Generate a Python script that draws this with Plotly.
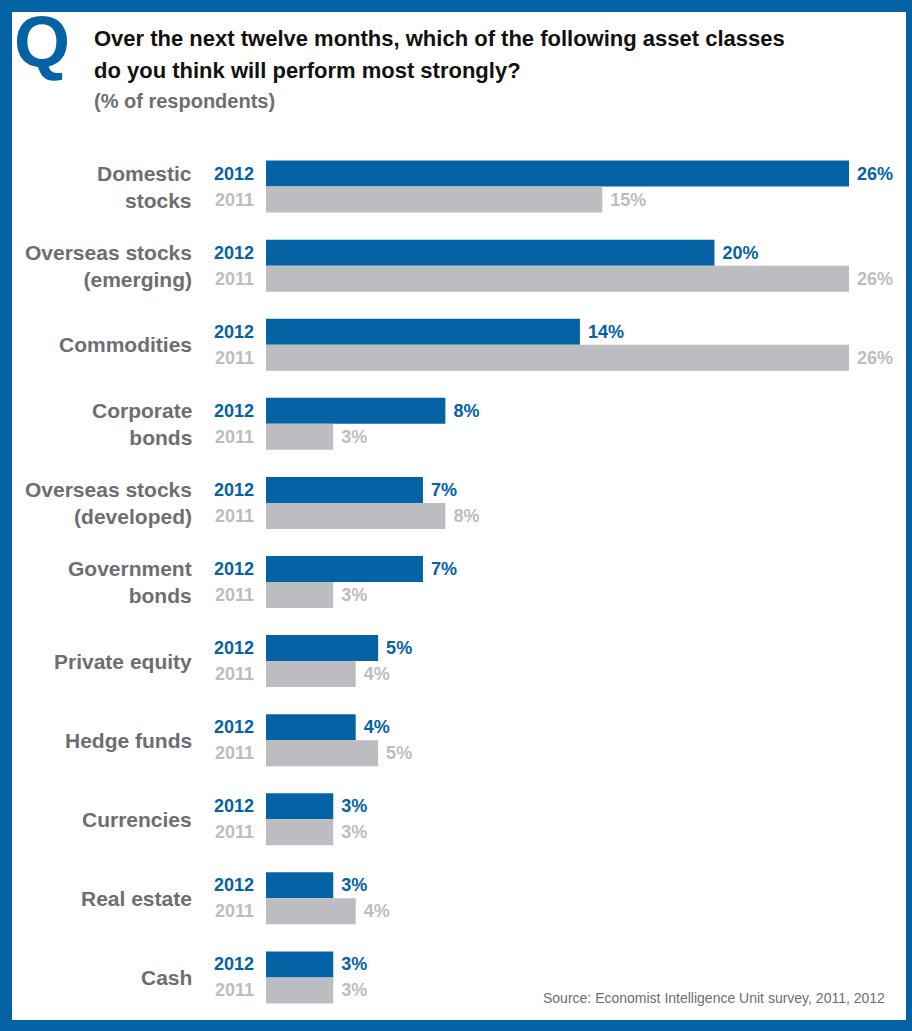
import plotly.graph_objects as go

categories = ["Domestic<br>stocks", "Overseas stocks<br>(emerging)", "Commodities",
              "Corporate<br>bonds", "Overseas stocks<br>(developed)", "Government<br>bonds",
              "Private equity", "Hedge funds", "Currencies", "Real estate", "Cash"]
values_2012 = [26, 20, 14, 8, 7, 7, 5, 4, 3, 3, 3]
values_2011 = [15, 26, 26, 3, 8, 3, 4, 5, 3, 4, 3]
series_names = ["2012", "2011"]

BLUE = "#0562a5"
GREY_BAR = "#bcbdc0"
GREY_TXT = "#6d6e71"
FONT = "Liberation Sans"

W, H = 912, 1031
ML, MR, MT, MB = 266, 18, 147, 14
PW = W - ML - MR
PH = H - MT - MB
XMAX = PW / (583 / 26)


def px_x(px):
    return (px - ML) / PW


def px_y(py):
    return (H - MB - py) / PH


fig = go.Figure()
fig.add_trace(go.Bar(
    y=categories, x=values_2012, name=series_names[0], orientation="h",
    marker=dict(color=BLUE, line=dict(width=0)),
    texttemplate=" %{x}%", textposition="outside", cliponaxis=False,
    constraintext="none", hoverinfo="skip",
    textfont=dict(family=FONT, size=18, color=BLUE, weight="bold"),
))
fig.add_trace(go.Bar(
    y=categories, x=values_2011, name=series_names[1], orientation="h",
    marker=dict(color=GREY_BAR, line=dict(width=0)),
    texttemplate=" %{x}%", textposition="outside", cliponaxis=False,
    constraintext="none", hoverinfo="skip",
    textfont=dict(family=FONT, size=18, color=GREY_BAR, weight="bold"),
))

annotations = []
for cat in categories:
    annotations.append(dict(
        x=0, y=cat, xref="x", yref="y", text=cat, showarrow=False,
        xanchor="right", yanchor="middle", align="right", xshift=-72,
        font=dict(family=FONT, size=21, color=GREY_TXT, weight="bold"),
    ))
    annotations.append(dict(
        x=0, y=cat, xref="x", yref="y", text=series_names[0], showarrow=False,
        xanchor="right", yanchor="middle", xshift=-10, yshift=13,
        font=dict(family=FONT, size=18, color=BLUE, weight="bold"),
    ))
    annotations.append(dict(
        x=0, y=cat, xref="x", yref="y", text=series_names[1], showarrow=False,
        xanchor="right", yanchor="middle", xshift=-10, yshift=-13,
        font=dict(family=FONT, size=18, color=GREY_BAR, weight="bold"),
    ))

annotations += [
    dict(x=px_x(12), y=px_y(0), xref="paper", yref="paper", text="Q",
         showarrow=False, xanchor="left", yanchor="top",
         font=dict(family=FONT, size=72, color=BLUE, weight="bold")),
    dict(x=px_x(92), y=px_y(38), xref="paper", yref="paper",
         text="Over the next twelve months, which of the following asset classes",
         showarrow=False, xanchor="left", yanchor="middle",
         font=dict(family=FONT, size=22, color="#111111", weight="bold")),
    dict(x=px_x(92), y=px_y(71), xref="paper", yref="paper",
         text="do you think will perform most strongly?",
         showarrow=False, xanchor="left", yanchor="middle",
         font=dict(family=FONT, size=22, color="#111111", weight="bold")),
    dict(x=px_x(92), y=px_y(101), xref="paper", yref="paper",
         text="(% of respondents)",
         showarrow=False, xanchor="left", yanchor="middle",
         font=dict(family=FONT, size=20, color=GREY_TXT, weight="bold")),
    dict(x=px_x(887), y=px_y(998), xref="paper", yref="paper",
         text="Source: Economist Intelligence Unit survey, 2011, 2012",
         showarrow=False, xanchor="right", yanchor="middle",
         font=dict(family=FONT, size=14, color=GREY_TXT)),
]

shapes = [dict(type="rect", xref="paper", yref="paper", layer="below",
               x0=px_x(12), x1=px_x(906), y0=px_y(1020), y1=px_y(12),
               fillcolor="white", line=dict(width=0))]

fig.update_layout(
    width=W, height=H,
    margin=dict(l=ML, r=MR, t=MT, b=MB, pad=0),
    paper_bgcolor=BLUE, plot_bgcolor="rgba(0,0,0,0)",
    barmode="group", bargap=1 - 52 / (PH / 11), bargroupgap=0,
    showlegend=False, hovermode=False,
    xaxis=dict(range=[0, XMAX], visible=False, fixedrange=True),
    yaxis=dict(categoryorder="array", categoryarray=categories,
               range=[len(categories) - 0.5, -0.5], visible=False,
               fixedrange=True),
    annotations=annotations, shapes=shapes,
    font=dict(family=FONT),
)

fig.write_html("out.html",
               config={"displayModeBar": False},
               post_script="document.body.style.margin='0px';"
                           "document.body.style.padding='0px';")
